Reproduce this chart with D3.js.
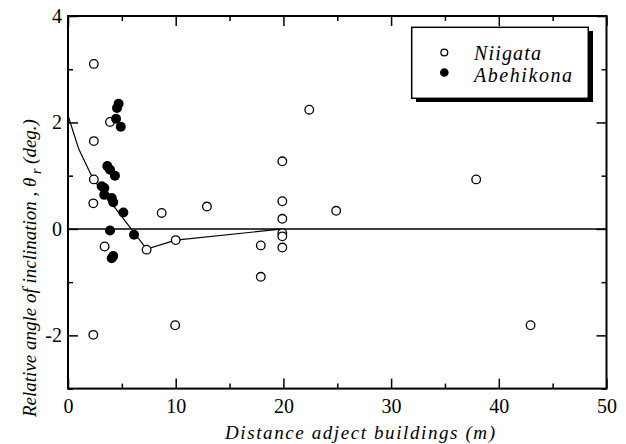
<!DOCTYPE html>
<html>
<head>
<meta charset="utf-8">
<script src="https://cdn.jsdelivr.net/npm/d3@7"></script>
<style>
  body { margin: 0; background: #fff; }
</style>
</head>
<body>
<div id="chart"></div>
<script>
// Niigata (open circles): [distance m, relative angle deg]
var niigata = [
  [2.4, 3.1], [2.4, 1.65], [3.9, 2.01], [2.4, 0.93], [2.35, 0.48],
  [3.4, -0.33], [2.35, -1.99], [8.7, 0.30], [12.9, 0.42], [10.0, -0.21],
  [7.3, -0.39], [9.95, -1.81], [17.9, -0.31], [17.9, -0.90], [22.4, 2.24],
  [19.9, 1.27], [19.9, 0.52], [19.9, 0.19], [19.9, -0.08], [19.9, -0.14],
  [19.9, -0.35], [24.9, 0.34], [37.9, 0.93], [42.95, -1.81]
];
// Abehikona (filled circles)
var abehikona = [
  [4.7, 2.35], [4.55, 2.27], [4.46, 2.07], [4.9, 1.92], [3.65, 1.18],
  [3.9, 1.11], [4.36, 1.0], [3.13, 0.80], [3.37, 0.77], [3.37, 0.64],
  [4.06, 0.58], [4.2, 0.50], [5.14, 0.31], [3.9, -0.03], [6.13, -0.11],
  [4.06, -0.55], [4.2, -0.51]
];
// trend line
var fitLine = [[0, 2.13], [1, 1.5], [2.35, 0.93], [7.3, -0.38], [10, -0.21], [20, 0]];

var xMajor = [0, 10, 20, 30, 40, 50];
var xMinor = [5, 15, 25, 35, 45];
var yMajor = [4, 2, 0, -2];
var yMinor = [3, 1, -1, -3];

var W = 626, H = 444;
// plot box edges ("top" is a window global, so m* names)
var mLeft = 68, mRight = 606.5, mTop = 16, mBottom = 388.6;
var serif = "Liberation Serif";

var svg = d3.select("#chart").append("svg")
  .attr("width", W).attr("height", H)
  .attr("font-family", serif);

var x = d3.scaleLinear().domain([0, 50]).range([mLeft, mRight]);
var y = d3.scaleLinear().domain([-3, 4]).range([mBottom, mTop]);

function styleAxis(g) {
  g.attr("font-family", serif).attr("font-size", 20);
  g.select(".domain").remove();
  g.selectAll(".tick line").attr("stroke", "#000").attr("stroke-width", 1.5);
  g.selectAll(".tick text").attr("font-family", serif).attr("font-size", 20).attr("fill", "#000");
}
var plain = function(d) { return String(d); };

// bottom
svg.append("g").attr("transform", "translate(0," + mBottom + ")")
  .call(d3.axisBottom(x).tickValues(xMajor).tickSize(-10).tickPadding(10).tickFormat(plain))
  .call(styleAxis);
svg.append("g").attr("transform", "translate(0," + mBottom + ")")
  .call(d3.axisBottom(x).tickValues(xMinor).tickSize(-5).tickFormat(""))
  .call(styleAxis);
// top
svg.append("g").attr("transform", "translate(0," + mTop + ")")
  .call(d3.axisTop(x).tickValues(xMajor).tickSize(-10).tickFormat(""))
  .call(styleAxis);
svg.append("g").attr("transform", "translate(0," + mTop + ")")
  .call(d3.axisTop(x).tickValues(xMinor).tickSize(-5).tickFormat(""))
  .call(styleAxis);
// left
svg.append("g").attr("transform", "translate(" + mLeft + ",0)")
  .call(d3.axisLeft(y).tickValues(yMajor).tickSize(-10).tickPadding(6).tickFormat(plain))
  .call(styleAxis);
svg.append("g").attr("transform", "translate(" + mLeft + ",0)")
  .call(d3.axisLeft(y).tickValues(yMinor).tickSize(-5).tickFormat(""))
  .call(styleAxis);
// right
svg.append("g").attr("transform", "translate(" + mRight + ",0)")
  .call(d3.axisRight(y).tickValues(yMajor).tickSize(-10).tickFormat(""))
  .call(styleAxis);
svg.append("g").attr("transform", "translate(" + mRight + ",0)")
  .call(d3.axisRight(y).tickValues(yMinor).tickSize(-5).tickFormat(""))
  .call(styleAxis);

// frame
svg.append("rect")
  .attr("x", mLeft).attr("y", mTop)
  .attr("width", mRight - mLeft).attr("height", mBottom - mTop)
  .attr("fill", "none").attr("stroke", "#000").attr("stroke-width", 2);

// zero line
svg.append("line")
  .attr("x1", x(0)).attr("x2", x(50)).attr("y1", y(0)).attr("y2", y(0))
  .attr("stroke", "#000").attr("stroke-width", 1.5);

// trend line
svg.append("path")
  .datum(fitLine)
  .attr("d", d3.line().x(function(d) { return x(d[0]); }).y(function(d) { return y(d[1]); }))
  .attr("fill", "none").attr("stroke", "#000").attr("stroke-width", 1.2);

svg.selectAll(".niigata").data(niigata).enter().append("circle")
  .attr("class", "niigata")
  .attr("cx", function(d) { return x(d[0]); })
  .attr("cy", function(d) { return y(d[1]); })
  .attr("r", 4.3)
  .attr("fill", "#fff").attr("stroke", "#000").attr("stroke-width", 1.3);

svg.selectAll(".abe").data(abehikona).enter().append("circle")
  .attr("class", "abe")
  .attr("cx", function(d) { return x(d[0]); })
  .attr("cy", function(d) { return y(d[1]); })
  .attr("r", 5)
  .attr("fill", "#000");

// legend
var lg = svg.append("g");
lg.append("rect").attr("x", 416).attr("y", 31).attr("width", 177).attr("height", 71).attr("fill", "#000");
lg.append("rect").attr("x", 411.7).attr("y", 27.3).attr("width", 176.6).attr("height", 71)
  .attr("fill", "#fff").attr("stroke", "#000").attr("stroke-width", 1.5);
lg.append("circle").attr("cx", 444.3).attr("cy", 52.5).attr("r", 3.4)
  .attr("fill", "#fff").attr("stroke", "#000").attr("stroke-width", 1.3);
lg.append("circle").attr("cx", 444.3).attr("cy", 72.5).attr("r", 4.3).attr("fill", "#000");
lg.append("text").attr("x", 474).attr("y", 60)
  .attr("font-family", serif).attr("font-size", 20).attr("font-style", "italic")
  .attr("textLength", 67).attr("lengthAdjust", "spacing").text("Niigata");
lg.append("text").attr("x", 474).attr("y", 81.5)
  .attr("font-family", serif).attr("font-size", 20).attr("font-style", "italic")
  .attr("textLength", 98).attr("lengthAdjust", "spacing").text("Abehikona");

// axis titles
svg.append("text")
  .attr("x", 225).attr("y", 439)
  .attr("font-family", serif).attr("font-size", 19).attr("font-style", "italic")
  .attr("textLength", 270).attr("lengthAdjust", "spacing")
  .text("Distance adject buildings (m)");

var yl = svg.append("text")
  .attr("transform", "translate(36,417) rotate(-90)")
  .attr("font-family", serif).attr("font-size", 19).attr("font-style", "italic");
yl.append("tspan").text("Relative angle of inclination ,  \u03b8");
yl.append("tspan").attr("dy", 5).attr("font-size", 14).text(" r");
yl.append("tspan").attr("dy", -5).text(" (deg.)");
</script>
</body>
</html>
